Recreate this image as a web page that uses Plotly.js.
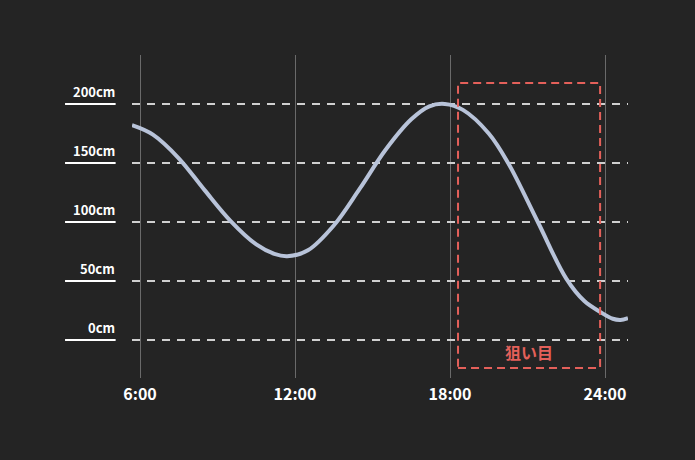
<!DOCTYPE html>
<html>
<head>
<meta charset="utf-8">
<script src="https://cdn.plot.ly/plotly-3.0.1.min.js"></script>
<style>
html,body{margin:0;padding:0;background:#242424;}
#chart{width:695px;height:460px;}
</style>
</head>
<body>
<div id="chart"></div>
<script>
// Data
const hours = [5.69, 6.5, 7.5, 8.5, 9.5, 10.5, 11.2, 11.7, 12.5, 13.5, 14.5, 15.5, 16.5, 17.2, 17.8, 18.5, 19.5, 20.25, 21.4, 22.5, 23.2, 23.8, 24.3, 24.6, 24.89];
const tideCm = [182, 174, 154, 127, 101, 81, 73, 71, 76, 97, 128, 161, 187, 198, 200, 195, 175, 150, 100, 52, 33, 24, 18, 17, 18.5];
const xTickVals = [6, 12, 18, 24];
const xTickText = ['6:00', '12:00', '18:00', '24:00'];
const yTickVals = [0, 50, 100, 150, 200];
const yTickText = ['0cm', '50cm', '100cm', '150cm', '200cm'];
const targetStart = 18.31, targetEnd = 23.81;
const targetLow = -23.7, targetHigh = 217.8;
const targetLabel = '狙い目';

const FONT = '"Noto Sans CJK JP", "Noto Sans", sans-serif';

const shapes = [];
const annotations = [];
yTickVals.forEach((v, i) => {
  shapes.push({type:'line', xref:'paper', yref:'y', x0:-0.135, x1:-0.033, y0:v, y1:v,
    line:{color:'#ffffff', width:2}});
  annotations.push({xref:'paper', yref:'y', x:-0.031, y:v, xanchor:'right', yanchor:'bottom',
    yshift:1, text:'<b>'+yTickText[i]+'</b>', showarrow:false,
    font:{family:FONT, size:13, color:'#ffffff'}});
});
shapes.push({type:'rect', xref:'x', yref:'y', x0:targetStart, x1:targetEnd, y0:targetLow, y1:targetHigh,
  line:{color:'#e4605a', width:2, dash:'8px,5px'}, fillcolor:'rgba(0,0,0,0)', layer:'above'});
annotations.push({xref:'x', yref:'y', x:(targetStart+targetEnd)/2, y:targetLow, yanchor:'bottom', yshift:2,
  text:'<b>'+targetLabel+'</b>', showarrow:false, font:{family:FONT, size:16, color:'#e4605a'}});

const trace = {
  x: hours, y: tideCm, type:'scatter', mode:'lines',
  line:{color:'#b8c3d9', width:4, shape:'spline', smoothing:1},
  hoverinfo:'skip'
};

const layout = {
  width:695, height:460,
  margin:{l:132, r:67, t:55, b:82},
  paper_bgcolor:'#242424', plot_bgcolor:'#242424',
  showlegend:false,
  xaxis:{range:[5.69, 24.89], tickvals:xTickVals, ticktext:xTickText.map(t=>'<b>'+t+'</b>'),
    showgrid:true, gridcolor:'#6a6a6a', gridwidth:1, zeroline:false, showline:false,
    ticks:'', ticklabelstandoff:5, tickfont:{family:FONT, size:16, color:'#ffffff'}, fixedrange:true},
  yaxis:{range:[-32.2, 241.5], tickvals:yTickVals, showticklabels:false,
    showgrid:true, gridcolor:'#d0d0d0', gridwidth:2, griddash:'8px,7px', zeroline:false, showline:false,
    ticks:'', fixedrange:true},
  shapes: shapes,
  annotations: annotations
};

Plotly.newPlot('chart', [trace], layout, {displayModeBar:false, staticPlot:true});
</script>
</body>
</html>
